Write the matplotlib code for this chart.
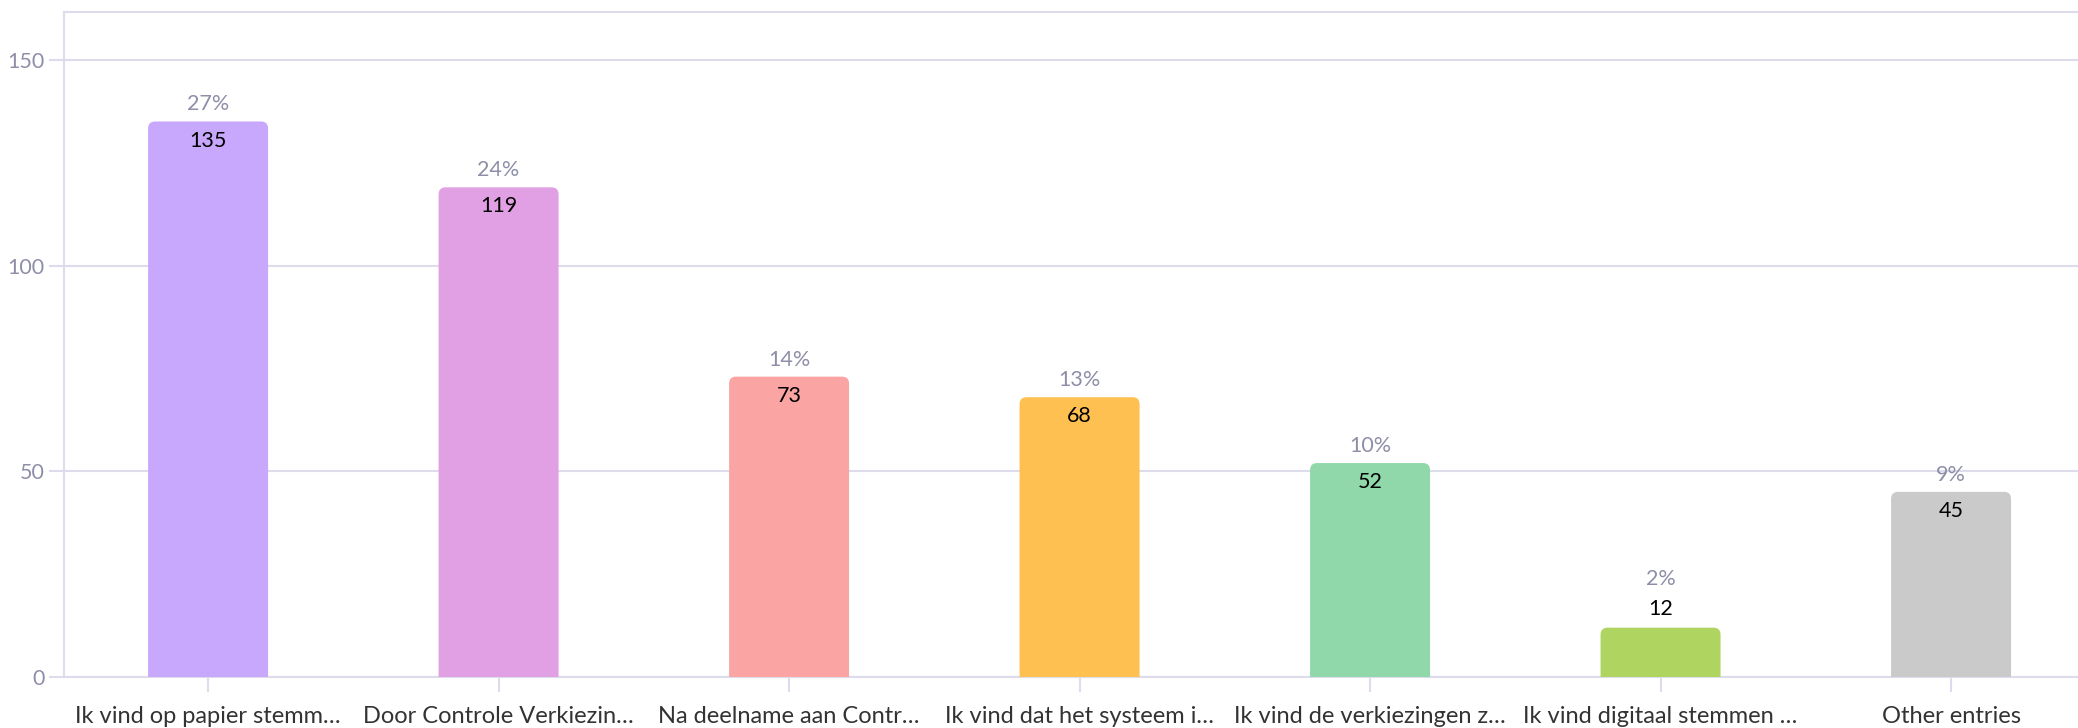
import matplotlib.pyplot as plt
from matplotlib.patches import FancyBboxPatch

plt.rcParams['font.family'] = ['Lato', 'DejaVu Sans']

categories = ['Ik vind op papier stemm…', 'Door Controle Verkiezin…', 'Na deelname aan Contr…',
              'Ik vind dat het systeem i…', 'Ik vind de verkiezingen z…', 'Ik vind digitaal stemmen …',
              'Other entries']
counts = [135, 119, 73, 68, 52, 12, 45]
percents = ['27%', '24%', '14%', '13%', '10%', '2%', '9%']
colors = ['#c8a8fc', '#e2a0e4', '#fba4a4', '#fec050', '#90d8aa', '#b0d460', '#cacaca']

grid_col = '#dcdcec'
muted = '#8e8ea8'

fig = plt.figure(figsize=(20.78, 7.28), dpi=100)
ax = fig.add_axes([0.0308, 0.070, 0.9692, 0.9135])
ax.set_xlim(-0.496, 6.437)
ax.set_ylim(0, 161.6)

# px per data unit, used to keep the corner radius round
px_x = 290.5
px_y = 4.11
width = 0.413
r = 7 / px_x
for i, (v, c) in enumerate(zip(counts, colors)):
    box = FancyBboxPatch((i - width / 2, -5), width, v + 5,
                         boxstyle=f'round,pad=0,rounding_size={r}',
                         mutation_aspect=px_x / px_y,
                         facecolor=c, edgecolor='none', zorder=3)
    ax.add_patch(box)
    if v >= 20:
        ax.text(i, v - 19 / px_y, str(v), ha='center', va='center', fontsize=15.5,
                color='black', zorder=4)
        ax.text(i, v + 17 / px_y, percents[i], ha='center', va='center', fontsize=15.5,
                color=muted, zorder=4)
    else:
        ax.text(i, v + 19 / px_y, str(v), ha='center', va='center', fontsize=15.5,
                color='black', zorder=4)
        ax.text(i, v + 49 / px_y, percents[i], ha='center', va='center', fontsize=15.5,
                color=muted, zorder=4)

ax.set_xticks(range(len(categories)))
ax.set_xticklabels(categories, fontsize=17, color='#333333')
ax.set_yticks([0, 50, 100, 150])
ax.tick_params(axis='y', colors=grid_col, labelcolor=muted, labelsize=15.5, length=11, width=1.5, pad=3)
ax.tick_params(axis='x', colors=grid_col, labelcolor='#333333', length=11, width=1.5, pad=10)

ax.grid(axis='y', color=grid_col, linewidth=1.5, zorder=0)
ax.set_axisbelow(True)
for s in ['left', 'bottom', 'top']:
    ax.spines[s].set_color(grid_col)
    ax.spines[s].set_linewidth(1.5)
ax.spines['right'].set_visible(False)

fig.savefig('out.png', dpi=100)
